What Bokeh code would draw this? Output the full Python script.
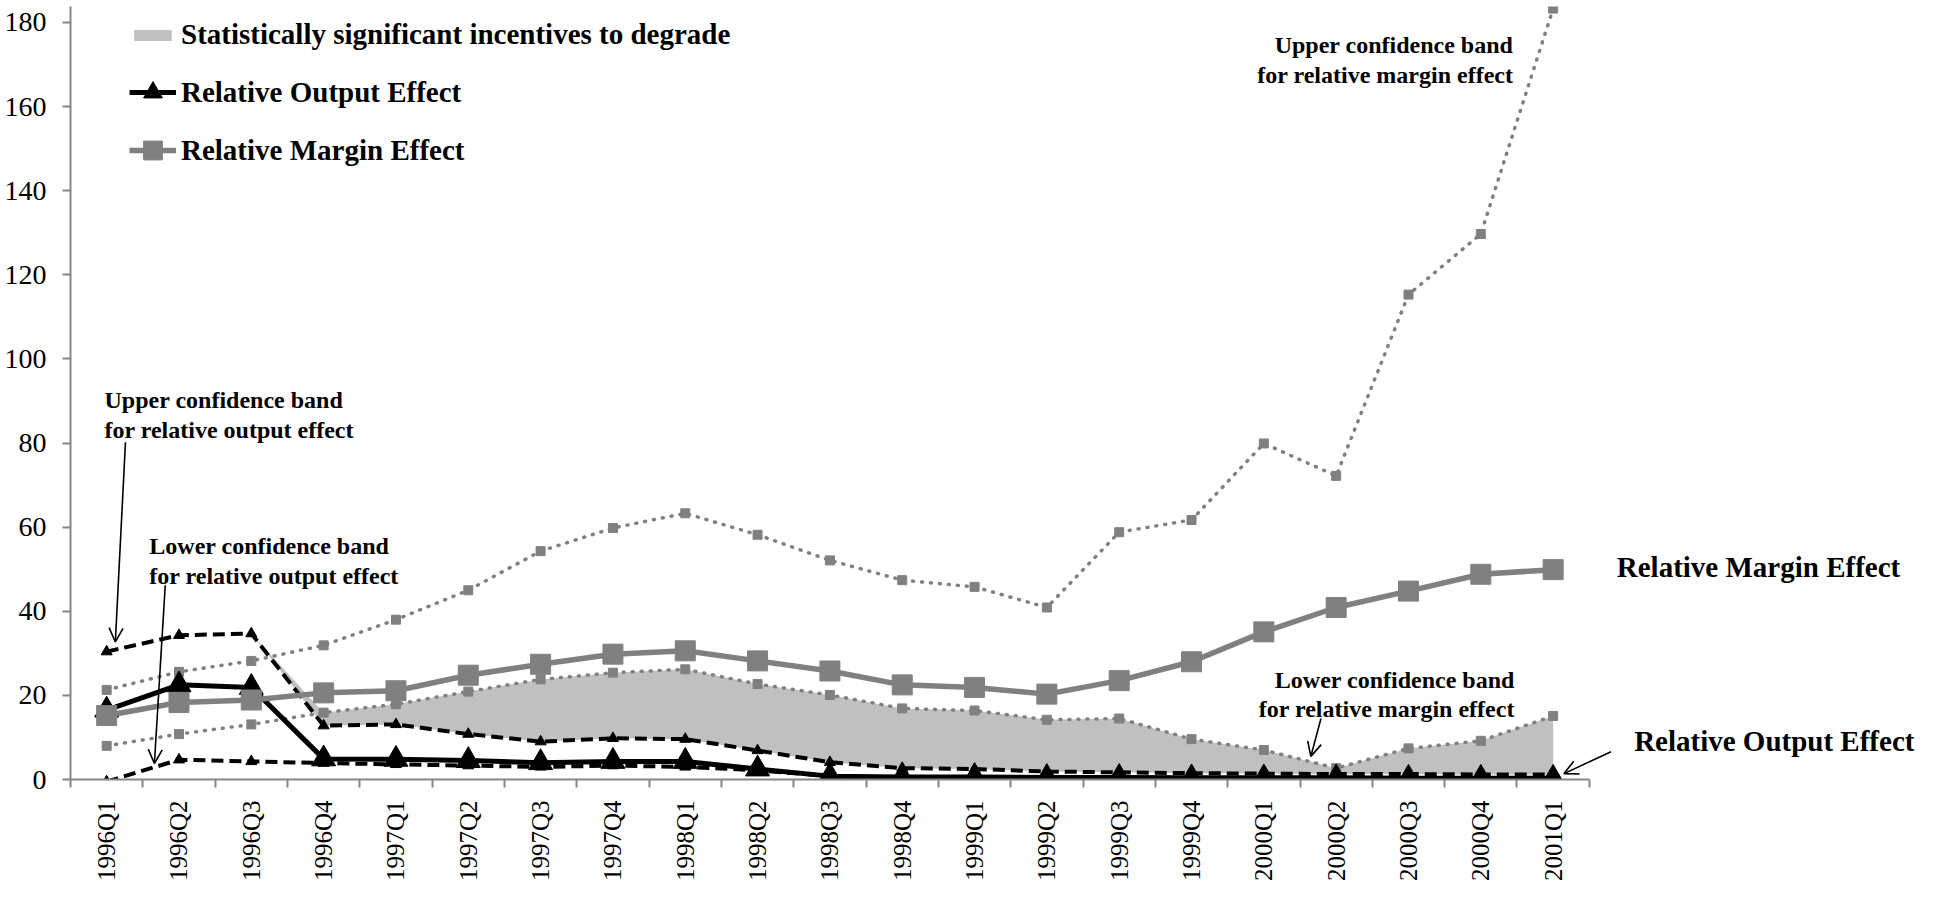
import math
from bokeh.plotting import figure
from bokeh.models import Range1d, FixedTicker, Legend, LegendItem, Label, Arrow, OpenHead
from bokeh.embed import file_html
from bokeh.resources import INLINE

quarters = ["1996Q1", "1996Q2", "1996Q3", "1996Q4", "1997Q1", "1997Q2", "1997Q3",
            "1997Q4", "1998Q1", "1998Q2", "1998Q3", "1998Q4", "1999Q1", "1999Q2",
            "1999Q3", "1999Q4", "2000Q1", "2000Q2", "2000Q3", "2000Q4", "2001Q1"]

margin_effect = [15.2, 18.3, 18.9, 20.6, 21.1, 24.8, 27.4, 29.8, 30.6, 28.2, 25.8,
                 22.5, 21.9, 20.3, 23.5, 28.0, 35.1, 40.9, 44.8, 48.8, 49.9]
margin_upper = [21.3, 25.6, 28.2, 31.9, 38.0, 45.0, 54.3, 59.8, 63.3, 58.2, 52.1,
                47.4, 45.8, 40.9, 58.8, 61.7, 79.9, 72.2, 115.3, 129.7, 183.3]
margin_lower = [8.0, 10.8, 13.1, 15.9, 17.9, 20.9, 23.8, 25.4, 26.2, 22.7, 20.1,
                16.9, 16.4, 14.2, 14.5, 9.6, 7.0, 2.7, 7.4, 9.2, 15.1]
output_effect = [16.5, 22.5, 21.9, 4.9, 4.8, 4.5, 4.0, 4.3, 4.3, 2.5, 0.8,
                 0.6, 0.6, 0.5, 0.5, 0.4, 0.4, 0.4, 0.3, 0.3, 0.3]
output_upper = [30.4, 34.3, 34.7, 12.8, 13.1, 10.8, 9.0, 9.8, 9.6, 6.9, 4.1,
                2.7, 2.5, 1.9, 1.7, 1.5, 1.4, 1.3, 1.3, 1.2, 1.2]
output_lower = [-0.5, 4.7, 4.3, 3.9, 3.6, 3.3, 3.0, 3.3, 3.0, 2.2, 0.8,
                0.4, 0.3, 0.3, 0.2, 0.2, 0.2, 0.2, 0.2, 0.2, 0.2]
y_ticks = [0, 20, 40, 60, 80, 100, 120, 140, 160, 180]

x = list(range(len(quarters)))
n = len(quarters)
# shaded region: where the lower margin band lies above the upper output band
sig_top = [uo + max(ml - uo, 0.0) for uo, ml in zip(output_upper, margin_lower)]

GRAY = "#808080"
AXIS = "#868686"
SHADE = "#c0c0c0"
FONT = "Liberation Serif"

p = figure(width=1928, height=884, output_backend="svg", toolbar_location=None,
           x_range=Range1d(-0.5, 25.19), y_range=Range1d(0, 183.8),
           min_border_left=70, min_border_right=0, min_border_top=6,
           min_border_bottom=100)
p.outline_line_color = None
p.grid.visible = False
p.background_fill_color = "white"
p.border_fill_color = "white"

# y axis
p.yaxis.ticker = FixedTicker(ticks=y_ticks)
p.yaxis.axis_line_color = AXIS
p.yaxis.axis_line_width = 2
p.yaxis.major_tick_line_color = AXIS
p.yaxis.major_tick_line_width = 2
p.yaxis.major_tick_out = 8
p.yaxis.major_tick_in = 0
p.yaxis.minor_tick_line_color = None
p.yaxis.major_label_text_font = FONT
p.yaxis.major_label_text_font_size = "28px"
p.yaxis.major_label_text_color = "black"
p.yaxis.major_label_standoff = 16

# x axis (category axis limited to the quarters)
p.xaxis.bounds = (-0.5, n - 0.5)
p.xaxis.ticker = FixedTicker(ticks=x, minor_ticks=[i - 0.5 for i in range(n + 1)])
p.xaxis.major_label_overrides = {i: q for i, q in zip(x, quarters)}
p.xaxis.major_label_orientation = math.pi / 2
p.xaxis.axis_line_color = AXIS
p.xaxis.axis_line_width = 2
p.xaxis.major_tick_out = 0
p.xaxis.major_tick_in = 0
p.xaxis.major_tick_line_color = None
p.xaxis.minor_tick_line_color = AXIS
p.xaxis.minor_tick_line_width = 2
p.xaxis.minor_tick_out = 8
p.xaxis.minor_tick_in = 0
p.xaxis.major_label_text_font = FONT
p.xaxis.major_label_text_font_size = "25px"
p.xaxis.major_label_text_color = "black"
p.xaxis.major_label_standoff = 13

# shaded area
area = p.varea(x=x, y1=output_upper, y2=sig_top, fill_color=SHADE)

# confidence bands for output effect (dashed black)
p.line(x, output_upper, line_color="black", line_width=4, line_dash="12 6")
p.scatter(x, output_upper, marker="triangle", size=11, color="black")
p.line(x, output_lower, line_color="black", line_width=4, line_dash="12 6")
p.scatter(x, output_lower, marker="triangle", size=11, color="black")

# confidence bands for margin effect (dotted gray)
p.line(x, margin_upper, line_color=GRAY, line_width=3.5, line_dash="1 8", line_cap="round")
p.scatter(x, margin_upper, marker="square", size=9, color=GRAY)
p.line(x, margin_lower, line_color=GRAY, line_width=3.5, line_dash="1 8", line_cap="round")
p.scatter(x, margin_lower, marker="square", size=9, color=GRAY)

# main series
oe_line = p.line(x, output_effect, line_color="black", line_width=5)
oe_pts = p.scatter(x, output_effect, marker="triangle", size=24, color="black")
me_line = p.line(x, margin_effect, line_color=GRAY, line_width=5.5)
me_pts = p.scatter(x, margin_effect, marker="square", size=20, color=GRAY)

def style_legend(lg, gh, sp):
    lg.label_text_font = FONT
    lg.label_text_font_style = "bold"
    lg.label_text_font_size = "29px"
    lg.label_text_color = "black"
    lg.glyph_width = 47
    lg.glyph_height = gh
    lg.label_height = 30
    lg.spacing = sp
    lg.padding = 0
    lg.margin = 0
    lg.label_standoff = 5
    lg.border_line_color = None
    lg.background_fill_alpha = 0

legend_a = Legend(items=[
    LegendItem(label="Statistically significant incentives to degrade", renderers=[area]),
], location=(59, 728))
style_legend(legend_a, 14, 0)
p.add_layout(legend_a)

legend_b = Legend(items=[
    LegendItem(label="Relative Output Effect", renderers=[oe_line, oe_pts]),
    LegendItem(label="Relative Margin Effect", renderers=[me_line, me_pts]),
], location=(59, 604))
style_legend(legend_b, 50, 8)
p.add_layout(legend_b)

# annotations
def note(xv, yv, text, align="left", size="24px"):
    p.add_layout(Label(x=xv, y=yv, text=text, text_font=FONT, text_font_style="bold",
                       text_font_size=size, text_align=align, text_baseline="middle",
                       text_color="black", text_line_height=1.15))

def arrow(x0, y0, x1, y1):
    p.add_layout(Arrow(x_start=x0, y_start=y0, x_end=x1, y_end=y1,
                       line_color="black", line_width=1.6,
                       end=OpenHead(size=14, line_width=1.6, line_color="black")))

note(-0.03, 86.7, "Upper confidence band\nfor relative output effect")
note(0.59, 51.9, "Lower confidence band\nfor relative output effect")
note(19.45, 171.1, "Upper confidence band\nfor relative margin effect", align="right")
note(19.47, 20.2, "Lower confidence band\nfor relative margin effect", align="right")
note(20.88, 50.5, "Relative Margin Effect", size="29px")
note(21.12, 9.2, "Relative Output Effect", size="29px")

arrow(0.26, 80.2, 0.12, 32.7)
arrow(0.81, 46.2, 0.66, 3.8)
arrow(16.79, 14.5, 16.65, 5.5)
arrow(20.80, 6.6, 20.15, 1.4)

open("out.html", "w").write(file_html(p, INLINE))
